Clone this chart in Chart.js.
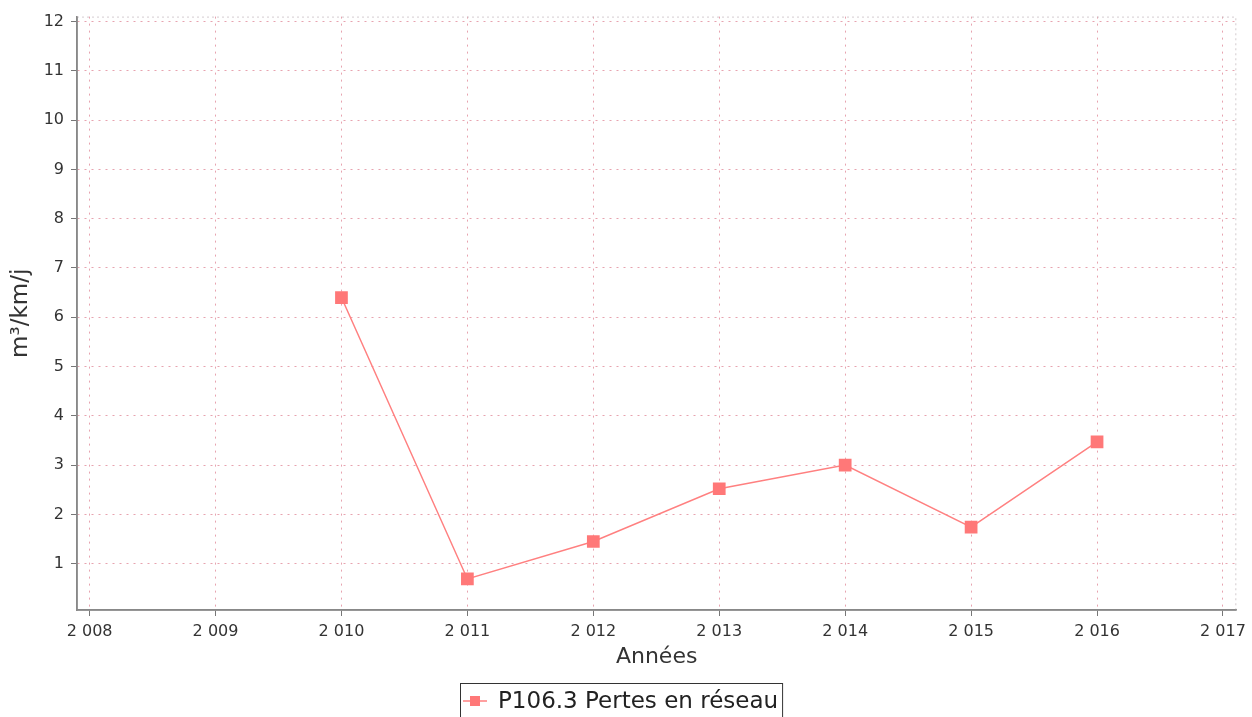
<!DOCTYPE html>
<html>
<head>
<meta charset="utf-8">
<script src="https://cdn.jsdelivr.net/npm/chart.js@4/dist/chart.umd.min.js"></script>
<style>
  html, body { margin: 0; padding: 0; background: #fff; }
  #wrap { position: relative; width: 1252px; height: 717px; }
</style>
</head>
<body>
<div id="wrap"><canvas id="c" width="1252" height="717"></canvas></div>
<script>
// ---- data ----
const years = [2010, 2011, 2012, 2013, 2014, 2015, 2016];
const pertes = [6.4, 0.69, 1.45, 2.52, 3.0, 1.74, 3.47];
const seriesLabel = 'P106.3 Pertes en réseau';
const xTitle = 'Années';
const yTitle = 'm³/km/j';
const xTicks = [2008, 2009, 2010, 2011, 2012, 2013, 2014, 2015, 2016, 2017];
const yTicks = [1, 2, 3, 4, 5, 6, 7, 8, 9, 10, 11, 12];

const FONT = 'DejaVu Sans';
const LINE = '#ff8080';
const MARK = '#ff7878';
const GRID = 'rgba(225,140,155,0.8)';
const AXIS = '#888';

const fmtYear = v => String(v).replace(/\B(?=(\d{3})+(?!\d))/g, ' ');

const legendPlugin = {
  id: 'boxLegend',
  afterDraw(chart) {
    const ctx = chart.ctx;
    const a = chart.chartArea;
    ctx.save();
    // faint top/right plot outline (dotted)
    ctx.strokeStyle = 'rgba(200,190,195,0.8)';
    ctx.lineWidth = 1;
    ctx.setLineDash([2, 3]);
    ctx.beginPath();
    ctx.moveTo(a.left, a.top + 0.5);
    ctx.lineTo(a.right - 0.5, a.top + 0.5);
    ctx.lineTo(a.right - 0.5, a.bottom);
    ctx.stroke();
    ctx.setLineDash([]);
    // solid axis lines
    ctx.strokeStyle = AXIS;
    ctx.lineWidth = 1.5;
    ctx.beginPath();
    ctx.moveTo(a.left, a.top);
    ctx.lineTo(a.left, a.bottom);
    ctx.lineTo(a.right, a.bottom);
    ctx.stroke();
    // legend box
    ctx.font = '23px "' + FONT + '"';
    const tw = ctx.measureText(seriesLabel).width;
    const bx = 460, by = 683;
    const bw = 38 + tw + 4;
    ctx.strokeStyle = '#333';
    ctx.lineWidth = 1;
    ctx.strokeRect(bx + 0.5, by + 0.5, bw, 40);
    const cy = 701;
    ctx.strokeStyle = LINE;
    ctx.lineWidth = 1.5;
    ctx.beginPath();
    ctx.moveTo(bx + 3, cy);
    ctx.lineTo(bx + 27, cy);
    ctx.stroke();
    ctx.fillStyle = MARK;
    ctx.fillRect(bx + 10, cy - 5, 10, 10);
    ctx.fillStyle = '#222';
    ctx.textBaseline = 'middle';
    ctx.textAlign = 'left';
    ctx.fillText(seriesLabel, bx + 38, cy + 1);
    ctx.restore();
  }
};

const gridOpts = {
  color: GRID,
  tickColor: '#777',
  tickLength: 6,
  tickBorderDash: [],
  lineWidth: 1
};

new Chart(document.getElementById('c'), {
  type: 'line',
  data: {
    datasets: [{
      label: seriesLabel,
      data: years.map((y, i) => ({ x: y, y: pertes[i] })),
      borderColor: LINE,
      borderWidth: 1.5,
      backgroundColor: MARK,
      pointStyle: 'rect',
      pointRadius: 9,
      pointBackgroundColor: MARK,
      pointBorderColor: MARK,
      pointBorderWidth: 0,
      tension: 0,
      fill: false
    }]
  },
  options: {
    responsive: false,
    animation: false,
    devicePixelRatio: 1,
    layout: { padding: { top: 15, right: 11, left: 0, bottom: 0 } },
    plugins: { legend: { display: false }, tooltip: { enabled: false } },
    scales: {
      x: {
        type: 'linear',
        min: 2007.9,
        max: 2017.106,
        afterBuildTicks: s => { s.ticks = xTicks.map(v => ({ value: v })); },
        afterFit: s => { s.height = 107; },
        ticks: {
          callback: v => fmtYear(v),
          font: { family: FONT, size: 16 },
          color: '#333',
          padding: 6,
          maxRotation: 0,
          autoSkip: false
        },
        grid: gridOpts,
        border: { color: AXIS, width: 1.5, dash: [2, 5] },
        title: {
          display: true,
          text: xTitle,
          font: { family: FONT, size: 22 },
          color: '#333',
          padding: { top: 0, bottom: 47 }
        }
      },
      y: {
        type: 'linear',
        min: 0.06,
        max: 12.1,
        afterBuildTicks: s => { s.ticks = yTicks.map(v => ({ value: v })); },
        afterFit: s => { s.width = 77; },
        ticks: {
          font: { family: FONT, size: 16 },
          color: '#333',
          padding: 7
        },
        grid: gridOpts,
        border: { color: AXIS, width: 1.5, dash: [2, 5] },
        title: {
          display: true,
          text: yTitle,
          font: { family: FONT, size: 23 },
          color: '#333',
          padding: { top: 7, bottom: 0 }
        }
      }
    }
  },
  plugins: [legendPlugin]
});
</script>
</body>
</html>
